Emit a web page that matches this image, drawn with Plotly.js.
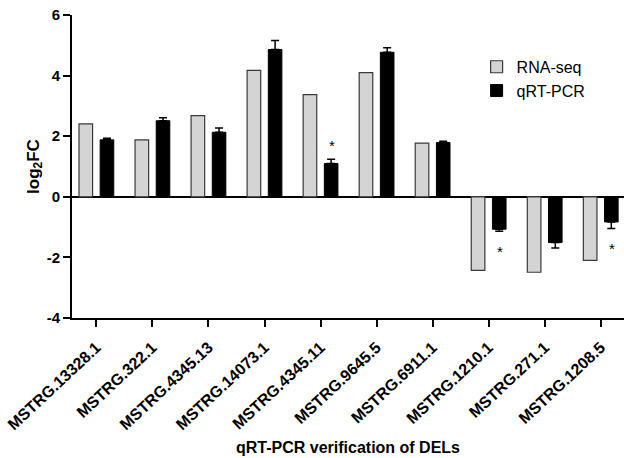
<!DOCTYPE html>
<html>
<head>
<meta charset="utf-8">
<script src="https://cdn.plot.ly/plotly-3.0.1.min.js"></script>
<style>
  html, body { margin: 0; padding: 0; background: #ffffff; }
  #chart { width: 624px; height: 458px; }
</style>
</head>
<body>
<div id="chart"></div>
<script>
// lncRNA fold changes: RNA-seq versus qRT-PCR validation
const categories = ['MSTRG.13328.1', 'MSTRG.322.1', 'MSTRG.4345.13', 'MSTRG.14073.1', 'MSTRG.4345.11',
                    'MSTRG.9645.5', 'MSTRG.6911.1', 'MSTRG.1210.1', 'MSTRG.271.1', 'MSTRG.1208.5'];
const rnaSeq = [2.41, 1.88, 2.68, 4.17, 3.37, 4.10, 1.77, -2.43, -2.49, -2.10];
const qrtPcr = [1.88, 2.51, 2.13, 4.86, 1.10, 4.77, 1.79, -1.07, -1.51, -0.83];
const qrtErr = [0.05, 0.10, 0.14, 0.30, 0.14, 0.15, 0.04, 0.07, 0.18, 0.22];
// genes whose qRT-PCR result differs significantly
const starred = ['MSTRG.4345.11', 'MSTRG.1210.1', 'MSTRG.1208.5'];
// y ticks, labelled with a plain hyphen for negatives
const yTickVals = [-4, -2, 0, 2, 4, 6];
const yTickText = ['-4', '-2', '0', '2', '4', '6'];

const FONT = 'Liberation Sans, Arial, sans-serif';

// error bars point away from zero only
const errUp = qrtPcr.map((v, i) => (v >= 0 ? qrtErr[i] : 0));
const errDown = qrtPcr.map((v, i) => (v < 0 ? qrtErr[i] : 0));

const traces = [
  {
    type: 'bar', name: 'RNA-seq', x: categories, y: rnaSeq,
    marker: { color: '#d4d4d4', line: { color: '#3a3a3a', width: 1.2 } },
    hoverinfo: 'x+y'
  },
  {
    type: 'bar', name: 'qRT-PCR', x: categories, y: qrtPcr,
    marker: { color: '#000000', line: { color: '#000000', width: 1 } },
    error_y: {
      type: 'data', symmetric: false, array: errUp, arrayminus: errDown,
      color: '#000000', thickness: 1.5, width: 4
    },
    hoverinfo: 'x+y'
  }
];

// significance marks placed just past the end of each error bar
const annotations = starred.map(name => {
  const i = categories.indexOf(name);
  const v = qrtPcr[i];
  const end = v >= 0 ? v + qrtErr[i] : v - qrtErr[i];
  return {
    x: name, y: end, xref: 'x', yref: 'y', text: '*', showarrow: false,
    xshift: 11, yshift: v >= 0 ? 14 : -20,
    font: { family: FONT, size: 15, color: '#000000' }
  };
});

const layout = {
  width: 624, height: 458,
  margin: { l: 72, r: 0, t: 15, b: 140 },
  paper_bgcolor: '#ffffff', plot_bgcolor: '#ffffff',
  barmode: 'group', bargap: 0.244, bargroupgap: 0.358,
  font: { family: FONT, color: '#000000' },
  showlegend: true,
  legend: {
    x: 0.733, y: 0.885, xanchor: 'left', yanchor: 'top',
    bgcolor: 'rgba(0,0,0,0)', borderwidth: 0,
    font: { family: FONT, size: 16, color: '#000000' },
    tracegroupgap: 0
  },
  xaxis: {
    type: 'category', range: [-0.435, 9.415],
    showline: true, linecolor: '#000000', linewidth: 2,
    ticks: 'outside', ticklen: 7, tickwidth: 2, tickcolor: '#000000',
    tickangle: -43, ticklabelstandoff: 5, showgrid: false, zeroline: false,
    tickfont: { family: FONT, size: 16, color: '#000000', weight: 'bold' },
    title: {
      text: '<b>qRT-PCR verification of DELs</b>', standoff: 10,
      font: { family: FONT, size: 16, color: '#000000' }
    }
  },
  yaxis: {
    range: [-4, 6], tickvals: yTickVals, ticktext: yTickText,
    showline: true, linecolor: '#000000', linewidth: 2,
    ticks: 'outside', ticklen: 7, tickwidth: 2, tickcolor: '#000000',
    showgrid: false, zeroline: true, zerolinecolor: '#000000', zerolinewidth: 2,
    tickfont: { family: FONT, size: 15, color: '#000000', weight: 'bold' },
    title: {
      text: '<b>log<sub>2</sub>FC</b>', standoff: 3,
      font: { family: FONT, size: 17, color: '#000000' }
    }
  },
  annotations: annotations
};

Plotly.newPlot('chart', traces, layout, { displayModeBar: false, staticPlot: true });
</script>
</body>
</html>
